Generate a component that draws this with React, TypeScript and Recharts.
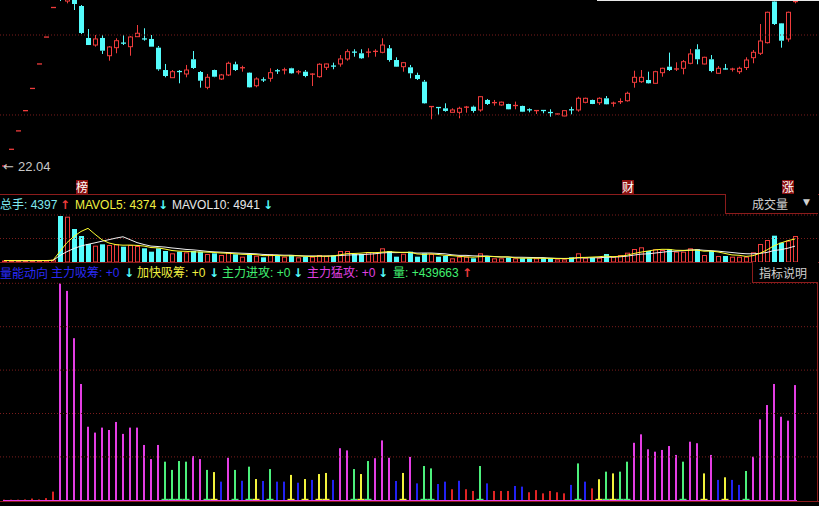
import { Bar, Cell, ComposedChart, Line, ReferenceLine, XAxis, YAxis } from "recharts";

// daily OHLC
const openP = [
  22.04, 24.24, 26.67, 29.34, 32.27, 35.5, 39.05, 42.95, 51.0, 43.8,
  45.0, 43.15, 38.93, 38.0, 38.93, 36.59, 37.65, 38.25, 37.78, 39.1,
  38.8, 38.8, 37.65, 34.7, 33.69, 34.5, 34.18, 36.12, 34.44, 32.42,
  34.7, 33.52, 34.05, 35.46, 34.9, 34.35, 32.63, 33.4, 33.61, 34.6,
  34.65, 34.93, 34.4, 34.48, 34.08, 33.82, 35.06, 35.22, 35.5, 36.16,
  37.06, 36.91, 36.98, 37.1, 37.04, 37.57, 36.02, 35.14, 35.06, 34.05,
  33.16, 29.85, 29.75, 29.65, 29.12, 29.12, 29.75, 29.86, 29.43, 30.75,
  30.36, 30.09, 30.22, 29.98, 29.96, 29.45, 29.32, 29.36, 29.09, 28.86,
  28.64, 29.45, 29.43, 30.44, 30.75, 30.39, 30.97, 30.28, 30.5, 30.65,
  33.08, 33.16, 33.39, 32.95, 34.35, 35.14, 34.8, 34.93, 35.59, 37.44,
  35.5, 36.12, 34.27, 34.84, 34.78, 34.48, 35.03, 36.33, 36.91, 38.31,
  43.74, 40.86, 38.8, 43.7,
];
const highP = [
  22.04, 24.24, 26.67, 29.34, 32.27, 35.5, 39.05, 42.95, 52.0, 48.0,
  45.5, 43.28, 40.11, 39.32, 39.32, 37.87, 38.89, 39.32, 39.19, 40.64,
  40.21, 39.32, 37.87, 35.5, 34.7, 34.7, 35.37, 37.21, 34.57, 34.18,
  34.75, 34.18, 35.8, 35.8, 35.27, 34.4, 33.74, 33.74, 34.93, 34.84,
  35.01, 35.0, 34.7, 34.7, 34.27, 35.59, 35.55, 35.67, 36.68, 37.44,
  37.44, 37.44, 37.57, 37.44, 38.89, 38.0, 36.38, 35.76, 35.37, 34.35,
  33.39, 29.9, 29.76, 30.31, 29.65, 29.86, 29.96, 30.0, 31.27, 30.88,
  30.75, 30.53, 30.25, 30.53, 30.0, 29.65, 29.36, 29.37, 29.52, 28.95,
  29.38, 29.86, 31.18, 31.05, 30.8, 31.1, 31.27, 30.53, 30.97, 31.84,
  34.61, 34.7, 34.48, 34.6, 35.0, 37.0, 35.72, 36.02, 37.48, 38.1,
  36.45, 36.68, 35.23, 35.5, 35.0, 35.14, 36.38, 37.34, 40.77, 42.4,
  44.5, 40.9, 42.4, 44.2,
];
const lowP = [
  22.04, 24.24, 26.67, 29.34, 32.27, 35.5, 39.05, 42.95, 43.8, 43.5,
  42.62, 39.45, 38.0, 37.78, 36.82, 35.93, 36.91, 38.0, 36.59, 39.06,
  38.57, 37.78, 34.61, 33.74, 33.65, 32.95, 33.74, 34.84, 32.37, 32.16,
  33.75, 33.39, 33.91, 34.57, 34.48, 32.38, 32.42, 33.12, 33.16, 34.18,
  34.13, 34.2, 34.13, 33.74, 32.59, 33.69, 34.7, 34.8, 35.14, 35.93,
  36.46, 36.16, 36.38, 36.46, 36.91, 35.8, 35.1, 34.48, 33.61, 33.39,
  30.25, 28.2, 28.77, 29.2, 29.1, 28.33, 29.07, 29.07, 29.2, 30.09,
  30.0, 30.0, 29.5, 29.52, 29.15, 29.12, 28.9, 28.99, 28.54, 28.85,
  28.6, 28.86, 29.2, 30.31, 30.2, 30.09, 30.15, 29.86, 30.22, 30.53,
  32.37, 33.0, 32.9, 32.9, 33.82, 34.57, 34.57, 34.13, 35.46, 35.46,
  35.45, 34.4, 34.2, 34.78, 34.5, 34.18, 34.7, 35.59, 36.68, 38.2,
  40.64, 37.65, 38.44, 43.5,
];
const closeP = [
  22.04, 24.24, 26.67, 29.34, 32.27, 35.5, 39.05, 42.95, 47.3, 46.5,
  43.41, 39.59, 38.0, 38.8, 37.25, 37.74, 38.57, 38.2, 39.06, 39.55,
  38.72, 37.78, 34.8, 33.91, 34.48, 34.45, 34.7, 34.97, 33.29, 33.74,
  33.82, 34.05, 35.59, 34.7, 35.0, 32.42, 33.52, 33.35, 34.35, 34.55,
  34.72, 34.27, 34.46, 33.91, 34.16, 35.46, 35.5, 35.15, 36.16, 37.12,
  37.0, 36.25, 37.06, 37.16, 38.0, 36.02, 35.14, 35.67, 34.27, 33.52,
  30.31, 29.88, 29.7, 29.3, 29.43, 29.65, 29.8, 29.3, 31.18, 30.22,
  30.4, 30.46, 29.52, 30.02, 29.2, 29.4, 29.35, 29.32, 29.05, 28.9,
  29.34, 29.4, 30.97, 30.97, 30.22, 30.97, 30.18, 30.33, 30.53, 31.63,
  33.74, 33.74, 32.95, 34.48, 34.93, 34.7, 34.84, 35.8, 36.82, 36.12,
  36.38, 34.57, 34.93, 34.8, 34.82, 34.93, 36.02, 37.04, 38.53, 42.32,
  40.77, 38.57, 42.32, 43.74,
];

// 成交量 (手)
const volume = [
  280, 250, 240, 250, 290, 300, 330, 450, 8740, 8610,
  6270, 4940, 3420, 3100, 3360, 3230, 3360, 2910, 3230, 3040,
  2600, 1960, 2600, 2090, 1650, 1960, 1840, 2090, 1960, 1520,
  1650, 1330, 1840, 1460, 1010, 1520, 1200, 890, 1460, 1200,
  1010, 1330, 890, 1010, 1010, 1330, 1200, 1200, 2090, 2090,
  1520, 1520, 1840, 1840, 2600, 2090, 1010, 1580, 1960, 1010,
  1650, 1520, 1010, 1140, 700, 1010, 1010, 700, 1650, 1010,
  700, 700, 820, 700, 700, 700, 700, 700, 700, 510,
  510, 890, 1650, 820, 820, 820, 1520, 1010, 1330, 1770,
  2470, 2790, 2090, 2410, 2280, 2410, 1960, 1960, 2600, 2410,
  1330, 2090, 1140, 1140, 1010, 1010, 1010, 1840, 3420, 4180,
  5000, 3670, 4050, 4940,
];

// 量能动向 stick heights and which signal each day shows
const flowValue = [
  0.3, 0.3, 0.3, 0.4, 0.8, 0.4, 1.0, 4.0, 100, 96.5,
  74.7, 53.6, 33.9, 31.2, 33.5, 32.4, 36.1, 30.6, 33.5, 33.5,
  25.5, 19.0, 25.5, 17.8, 14.0, 18.1, 17.8, 20.4, 19.0, 14.0,
  13.0, 8.6, 19.6, 14.0, 9.0, 15.5, 9.8, 8.9, 14.4, 8.6,
  8.6, 11.7, 8.1, 9.8, 9.4, 12.1, 12.6, 9.4, 24.0, 23.0,
  14.4, 12.1, 18.1, 19.4, 27.6, 19.6, 8.9, 12.6, 20.0, 7.8,
  15.8, 14.7, 7.5, 8.6, 5.1, 9.0, 5.1, 4.3, 15.8, 7.8,
  4.3, 4.3, 4.3, 6.6, 6.3, 3.7, 4.7, 3.2, 4.3, 3.7,
  3.2, 7.1, 17.0, 8.6, 5.5, 9.7, 13.2, 12.4, 13.2, 17.8,
  26.5, 30.4, 23.5, 22.4, 23.2, 25.0, 20.9, 17.8, 27.0, 26.3,
  12.4, 20.9, 9.4, 10.6, 9.4, 7.1, 13.5, 20.1, 37.3, 43.9,
  53.6, 38.5, 36.7, 53.1,
];
const flowType = (
  "rrrrrrrrmm" + "mmmmmmmmmm" + "mmmggggmmg" + "ybmgbgybgb" + "bybybyybmm" +
  "gygmmmbymb" + "ggbbrbrrgb" + "rrrbbrrrrr" + "rbgbrygygg" + "mmmmmmmgmm" +
  "ymbybbgmmm" + "mmmm"
).split("");

const priceGrid = [28.77, 39.32];
const volumeGrid = [4465, 8930];
const flowGrid = [20, 40, 60, 80, 100];

const UP = "#f03c3c";
const DOWN = "#54fcfc";
const FRAME = "#8c1c1c";
const GRID = "#7a1c1c";
const FLOW_COLORS: Record<string, string> = {
  m: "#e43ee4",
  g: "#4cf07c",
  y: "#f2f23c",
  b: "#2222f2",
  r: "#e02424",
};
const FONT = '"Liberation Sans", "Noto Sans CJK SC", sans-serif';
const CJK = '"Noto Sans CJK SC", sans-serif';
const ARROW = '"DejaVu Sans", sans-serif';

const avg = (n: number, i: number) => {
  const from = Math.max(0, i - n + 1);
  let s = 0;
  for (let k = from; k <= i; k++) s += volume[k];
  return s / (i - from + 1);
};

const rows = openP.map((o, i) => ({
  i,
  open: o,
  high: highP[i],
  low: lowP[i],
  close: closeP[i],
  range: [lowP[i], highP[i]],
  vol: volume[i],
  ma5: avg(5, i),
  ma10: avg(10, i),
  flow: flowValue[i],
  type: flowType[i],
}));

const PAD = { left: 0.5, right: 20.5 };

function Candle(props: any) {
  const { x, y, width, height, payload } = props;
  if (x == null || y == null) return null;
  const { open, close, high, low } = payload;
  const up = close >= open;
  const color = up ? UP : DOWN;
  const cx = Math.round(x + width / 2) + 0.5;
  const span = high - low;
  const toY = (v: number) => (span > 0 ? y + ((high - v) / span) * height : y);
  const top = Math.min(toY(open), toY(close));
  const bot = Math.max(toY(open), toY(close));
  if (bot - top < 1.2) {
    return (
      <g>
        {span > 0 && <line x1={cx} x2={cx} y1={y} y2={y + height} stroke={color} />}
        <line x1={cx - 2.5} x2={cx + 2.5} y1={top} y2={top} stroke={color} strokeWidth={1.3} />
      </g>
    );
  }
  return (
    <g>
      <line x1={cx} x2={cx} y1={y} y2={top} stroke={color} />
      <line x1={cx} x2={cx} y1={bot} y2={y + height} stroke={color} />
      {up ? (
        <rect x={cx - 2} y={top} width={4} height={bot - top} fill="#000" stroke={color} />
      ) : (
        <rect x={cx - 2.5} y={top} width={5} height={bot - top} fill={color} />
      )}
    </g>
  );
}

function VolBar(props: any) {
  const { x, y, width, height, payload } = props;
  if (x == null || !height) return null;
  const up = payload.close >= payload.open;
  const cx = Math.round(x + width / 2) + 0.5;
  if (up) {
    return <rect x={cx - 2} y={y + 0.5} width={4} height={Math.max(height - 0.5, 0.5)} fill="none" stroke={UP} />;
  }
  return <rect x={cx - 2.5} y={y} width={5} height={height} fill={DOWN} />;
}

function FlowBar(props: any) {
  const { x, y, width, height, payload } = props;
  if (x == null) return null;
  const c = FLOW_COLORS[payload.type];
  const cx = Math.round(x + width / 2);
  const foot = payload.type === "y" || payload.type === "g";
  return (
    <g>
      <rect x={cx - 1} y={y} width={2} height={height} fill={c} />
      {foot && <rect x={cx - 3.5} y={y + height - 1.5} width={7} height={2} fill={c} />}
    </g>
  );
}

const hline = (top: number, left = 0, width = 819) => (
  <div style={{ position: "absolute", top, left, width, height: 1, background: FRAME }} />
);

const label = (text: string, left: number, top: number, color: string, size = 12, font = FONT, weight = 400) => (
  <span
    style={{
      position: "absolute",
      left,
      top,
      color,
      fontSize: size,
      fontFamily: font,
      fontWeight: weight,
      lineHeight: `${size + 2}px`,
      whiteSpace: "pre",
    }}
  >
    {text}
  </span>
);

const arrow = (up: boolean, left: number, top: number) =>
  label(up ? "↑" : "↓", left, top, up ? UP : DOWN, 12, ARROW, 700);

const tag = (text: string, left: number) => (
  <div
    style={{
      position: "absolute",
      left,
      top: 180,
      width: 12,
      height: 14,
      background: "#8a1010",
      color: "#fff",
      fontSize: 12,
      lineHeight: "14px",
      fontFamily: CJK,
      textAlign: "center",
    }}
  >
    {text}
  </div>
);

export default function App() {
  return (
    <div
      style={{
        position: "absolute",
        left: 0,
        top: 0,
        width: 819,
        height: 506,
        background: "#000",
        overflow: "hidden",
      }}
    >
      {/* price */}
      <div style={{ position: "absolute", left: 0, top: 0 }}>
        <ComposedChart width={819} height={195} data={rows} margin={{ top: 0, right: 0, bottom: 0, left: 0 }} barCategoryGap={0}>
          <XAxis dataKey="i" type="category" hide padding={PAD} />
          <YAxis hide domain={[18.21, 43.94]} allowDataOverflow />
          {priceGrid.map((v) => (
            <ReferenceLine key={v} y={v} stroke={GRID} strokeDasharray="1 2" />
          ))}
          <Bar dataKey="range" barSize={5} shape={<Candle />} isAnimationActive={false} />
        </ComposedChart>
      </div>
      {tag("榜", 76)}
      {tag("财", 622)}
      {tag("涨", 782)}
      {label("←", 3, 159, "#c8c8c8", 13, ARROW)}
      {label("22.04", 18, 159, "#c8c8c8", 13)}
      <div style={{ position: "absolute", left: 597, top: 0, width: 222, height: 1, background: "#e8e8e8" }} />
      {hline(194)}

      {/* volume */}
      <div style={{ position: "absolute", left: 0, top: 195 }}>
        <ComposedChart width={819} height={68} data={rows} margin={{ top: 19, right: 0, bottom: 1, left: 0 }} barCategoryGap={0}>
          <XAxis dataKey="i" type="category" hide padding={PAD} />
          <YAxis hide domain={[0, 9120]} allowDataOverflow />
          {volumeGrid.map((v) => (
            <ReferenceLine key={v} y={v} stroke={GRID} strokeDasharray="1 2" />
          ))}
          <Bar dataKey="vol" barSize={5} shape={<VolBar />} isAnimationActive={false} />
          <Line dataKey="ma10" stroke="#f0f0f0" strokeWidth={1} dot={false} isAnimationActive={false} />
          <Line dataKey="ma5" stroke="#ffff30" strokeWidth={1} dot={false} isAnimationActive={false} />
        </ComposedChart>
      </div>
      {label("总手: 4397", 0, 198, "#7fe8f0")}
      {arrow(true, 60, 198)}
      {label("MAVOL5: 4374", 75, 198, "#f0f040")}
      {arrow(false, 158, 198)}
      {label("MAVOL10: 4941", 172, 198, "#e8e8e8")}
      {arrow(false, 263, 198)}
      <div
        style={{
          position: "absolute",
          left: 725,
          top: 194,
          width: 92,
          height: 19,
          borderLeft: `1px solid ${FRAME}`,
          borderBottom: `1px solid ${FRAME}`,
          background: "#000",
        }}
      />
      {label("成交量", 752, 197, "#d0d0d0", 12, CJK)}
      {label("▼", 803, 197, "#d0d0d0", 9, ARROW)}
      {hline(262)}

      {/* 量能动向 */}
      <div style={{ position: "absolute", left: 0, top: 263 }}>
        <ComposedChart width={819} height={243} data={rows} margin={{ top: 20.3, right: 0, bottom: 5.7, left: 0 }} barCategoryGap={0}>
          <XAxis dataKey="i" type="category" hide padding={PAD} />
          <YAxis hide domain={[0, 100]} allowDataOverflow />
          {flowGrid.map((v) => (
            <ReferenceLine key={v} y={v} stroke={GRID} strokeDasharray="1 2" />
          ))}
          <Bar dataKey="flow" barSize={5} shape={<FlowBar />} isAnimationActive={false}>
            {rows.map((r) => (
              <Cell key={r.i} fill={FLOW_COLORS[r.type]} />
            ))}
          </Bar>
        </ComposedChart>
      </div>
      <div style={{ position: "absolute", left: 3, top: 499.5, width: 794, height: 1.5, background: "#e43ee4" }} />
      {label("量能动向", 0, 266, "#2a2af5", 12, CJK)}
      {label("主力吸筹: +0", 51, 266, "#2a2af5")}
      {arrow(false, 124, 266)}
      {label("加快吸筹: +0", 137, 266, "#f0f040")}
      {arrow(false, 209, 266)}
      {label("主力进攻: +0", 222, 266, "#40f070")}
      {arrow(false, 293, 266)}
      {label("主力猛攻: +0", 307, 266, "#e040e0")}
      {arrow(false, 378, 266)}
      {label("量: +439663", 393, 266, "#40f070")}
      {arrow(true, 462, 266)}
      <div
        style={{
          position: "absolute",
          left: 752,
          top: 262,
          width: 65,
          height: 20,
          borderLeft: `1px solid ${FRAME}`,
          borderBottom: `1px solid ${FRAME}`,
          background: "#000",
        }}
      />
      {label("指标说明", 759, 266, "#d0d0d0", 12, CJK)}
      <div style={{ position: "absolute", left: 817, top: 282, width: 1, height: 220, background: FRAME }} />
      {hline(501)}
    </div>
  );
}
